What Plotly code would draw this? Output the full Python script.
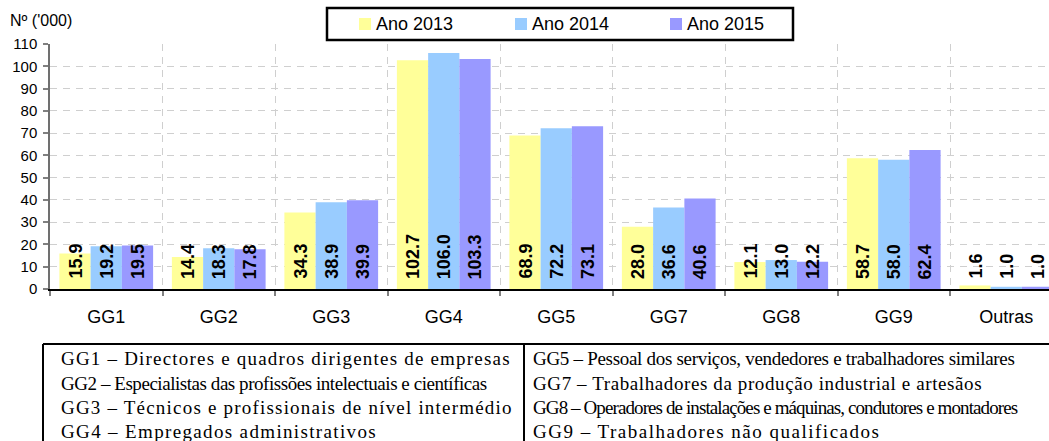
import plotly.graph_objects as go

# Occupational groups and employment (thousands) per year
categories = ["GG1", "GG2", "GG3", "GG4", "GG5", "GG7", "GG8", "GG9", "Outras"]
ano_2013 = [15.9, 14.4, 34.3, 102.7, 68.9, 28.0, 12.1, 58.7, 1.6]
ano_2014 = [19.2, 18.3, 38.9, 106.0, 72.2, 36.6, 13.0, 58.0, 1.0]
ano_2015 = [19.5, 17.8, 39.9, 103.3, 73.1, 40.6, 12.2, 62.4, 1.0]
series_names = ["Ano 2013", "Ano 2014", "Ano 2015"]
series_values = [ano_2013, ano_2014, ano_2015]
series_colors = ["#FFFF99", "#99CCFF", "#9999FF"]

y_ticks = list(range(0, 111, 10))
y_title = "Nº ('000)"

legend_left = [
    "GG1 – Directores e quadros dirigentes de empresas",
    "GG2 – Especialistas das profissões intelectuais e científicas",
    "GG3 – Técnicos e profissionais de nível intermédio",
    "GG4 – Empregados administrativos",
]
legend_right = [
    "GG5 – Pessoal dos serviços, vendedores e trabalhadores similares",
    "GG7 – Trabalhadores da produção industrial e artesãos",
    "GG8 – Operadores de instalações e máquinas, condutores e montadores",
    "GG9 – Trabalhadores não qualificados",
]
# letter spacing (px) per description line
left_spacing = [1.2, -0.45, 1.2, 1.35]
right_spacing = [-0.3, 0.6, -0.9, 1.5]

# page geometry (pixels)
W, H = 1049, 441
ML, MR, MT, MB = 50, 0, 44, 152
PW, PH = W - ML - MR, H - MT - MB
CAT_W = 112.5  # pixels per category
BARGAP = 0.167
bar_w = (1 - BARGAP) / 3


def px(x):
    return (x - ML) / PW


def py(y):
    return (H - MB - y) / PH


SANS = "Liberation Sans"
SERIF = "Liberation Serif"

fig = go.Figure()
for name, vals, col in zip(series_names, series_values, series_colors):
    fig.add_trace(go.Bar(
        x=categories, y=vals, name=name,
        marker=dict(color=col, line=dict(width=0)),
        showlegend=False,
    ))

annotations = []
# value labels, standing at the base of each bar
for j, vals in enumerate(series_values):
    for i, v in enumerate(vals):
        annotations.append(dict(
            x=i + (j - 1) * bar_w, y=0, xref="x", yref="y",
            text=f"<b>{v:.1f}</b>", textangle=-90, showarrow=False,
            xanchor="center", yanchor="bottom", yshift=8,
            font=dict(family=SANS, size=18, color="black"),
        ))

# y-axis caption
annotations.append(dict(
    x=px(8), y=py(21), xref="paper", yref="paper", text=y_title,
    showarrow=False, xanchor="left", yanchor="middle",
    font=dict(family=SANS, size=16, color="black"),
))

shapes = []
# legend box
shapes.append(dict(type="rect", xref="paper", yref="paper",
                   x0=px(327), x1=px(793), y0=py(8), y1=py(40),
                   line=dict(color="black", width=2.5), fillcolor="white"))
swatch_x = [359, 515, 670]
for sx, name, col in zip(swatch_x, series_names, series_colors):
    shapes.append(dict(type="rect", xref="paper", yref="paper",
                       x0=px(sx), x1=px(sx + 12), y0=py(18), y1=py(30),
                       line=dict(width=0), fillcolor=col))
    annotations.append(dict(
        x=px(sx + 15), y=py(24), xref="paper", yref="paper", text=name,
        showarrow=False, xanchor="left", yanchor="middle",
        font=dict(family=SANS, size=18, color="black"),
    ))

# description table
shapes.append(dict(type="line", xref="paper", yref="paper",
                   x0=px(43), x1=px(1060), y0=py(344), y1=py(344),
                   line=dict(color="black", width=2)))
for xv in (43, 524):
    shapes.append(dict(type="line", xref="paper", yref="paper",
                       x0=px(xv), x1=px(xv), y0=py(344), y1=py(460),
                       line=dict(color="black", width=2)))
row_y = [358.5, 383, 407.5, 431.5]
for col_x, lines, spacing in ((59, legend_left, left_spacing),
                              (531, legend_right, right_spacing)):
    for yv, txt, sp in zip(row_y, lines, spacing):
        label = f"<span style='letter-spacing:{sp}px'>{txt}</span>"
        annotations.append(dict(
            x=px(col_x), y=py(yv), xref="paper", yref="paper", text=label,
            showarrow=False, xanchor="left", yanchor="middle",
            font=dict(family=SERIF, size=19, color="black"),
        ))

grid_col = "#cfcfcf"
fig.update_layout(
    width=W, height=H,
    margin=dict(l=ML, r=MR, t=MT, b=MB, pad=0),
    paper_bgcolor="white", plot_bgcolor="white",
    barmode="group", bargap=BARGAP, bargroupgap=0,
    xaxis=dict(
        type="category", range=[-0.5, -0.5 + PW / CAT_W],
        tickson="boundaries", ticks="outside", ticklen=5,
        tickcolor="#808080", tickwidth=1.5,
        showline=True, linecolor="black", linewidth=1.5,
        showgrid=True, gridcolor=grid_col, gridwidth=1.3, griddash="7px,6px",
        tickfont=dict(family=SANS, size=18, color="black"),
        ticklabelstandoff=11,
    ),
    yaxis=dict(
        range=[0, 110], tickvals=y_ticks,
        ticks="outside", ticklen=5, tickcolor="#808080", tickwidth=1.5,
        showline=True, linecolor="#707070", linewidth=1.5,
        showgrid=True, gridcolor=grid_col, gridwidth=1.3, griddash="7px,6px",
        zeroline=False,
        tickfont=dict(family=SANS, size=15, color="black"),
        ticklabelstandoff=3,
    ),
    annotations=annotations,
    shapes=shapes,
)

fig.write_html("out.html")
